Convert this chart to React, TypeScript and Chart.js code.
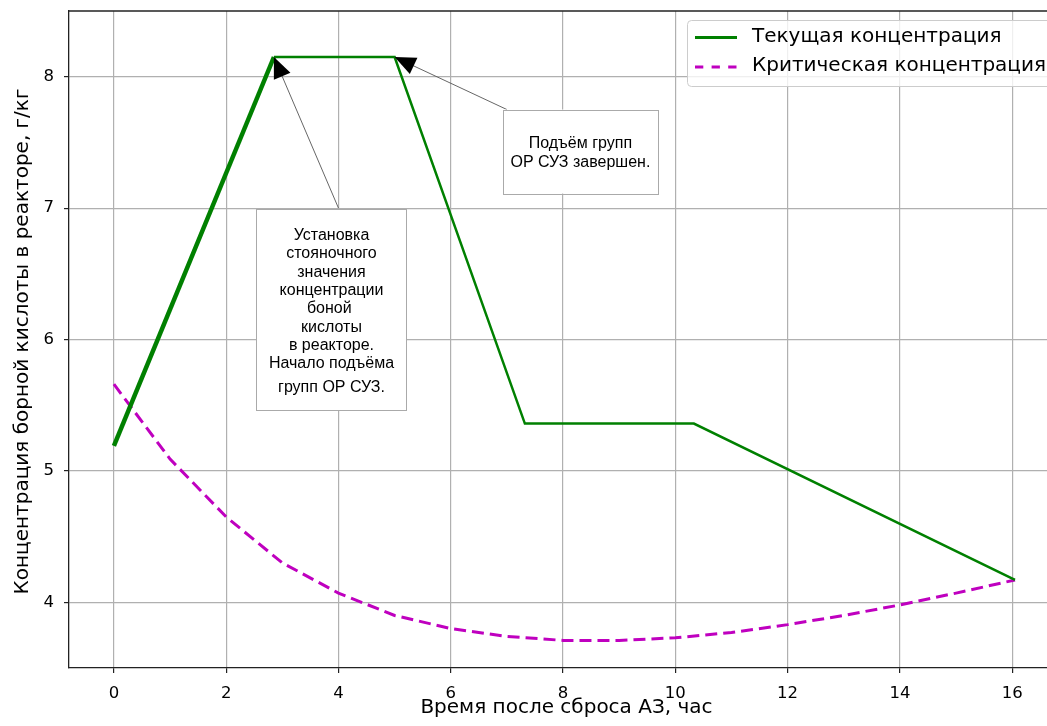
import React, { useEffect, useRef } from "react";
import { Chart, registerables } from "chart.js";

Chart.register(...registerables);

// ---- data ----
const currentX = [0, 2.85, 5.0, 7.32, 10.33, 16.05];
const currentY = [5.19, 8.15, 8.15, 5.36, 5.36, 4.17];

const criticalX = [0, 1, 2, 3, 4, 5, 6, 7, 8, 9, 10, 11, 12, 13, 14, 15, 16.05];
const criticalY = [5.66, 5.09, 4.65, 4.3, 4.07, 3.9, 3.8, 3.74, 3.71, 3.71, 3.73, 3.77, 3.83, 3.9, 3.98, 4.07, 4.17];

const xTicks = [0, 2, 4, 6, 8, 10, 12, 14, 16];
const yTicks = [4, 5, 6, 7, 8];

const seriesNames = ["Текущая концентрация", "Критическая концентрация"];
const xTitle = "Время после сброса АЗ, час";
const yTitle = "Концентрация борной кислоты в реакторе, г/кг";

const note1Lines = [
  "Установка",
  "стояночного",
  "значения",
  "концентрации",
  "боной ",
  "кислоты",
  "в реакторе.",
  "Начало подъёма",
  "групп ОР СУЗ.",
];
const note1Tip = [2.85, 8.15];
const note1Anchor = [4, 7];

const note2Lines = ["Подъём групп", "ОР СУЗ завершен."];
const note2Tip = [5.0, 8.15];
const note2Anchor = [7, 7.75];

// ---- styles ----
const GREEN = "#008000";
const MAGENTA = "#bf00bf";
const TICK_FONT = "DejaVu Sans";
const NOTE_FONT = "16px 'Liberation Sans', Arial, sans-serif";

function drawArrow(ctx: CanvasRenderingContext2D, sx: number, sy: number, tx: number, ty: number) {
  ctx.save();
  ctx.strokeStyle = "#555";
  ctx.lineWidth = 0.9;
  ctx.beginPath();
  ctx.moveTo(sx, sy);
  ctx.lineTo(tx, ty);
  ctx.stroke();
  const dx = sx - tx;
  const dy = sy - ty;
  const len = Math.hypot(dx, dy);
  const ux = dx / len;
  const uy = dy / len;
  const bx = tx + ux * 21;
  const by = ty + uy * 21;
  const px = -uy;
  const py = ux;
  ctx.fillStyle = "#000";
  ctx.beginPath();
  ctx.moveTo(tx, ty);
  ctx.lineTo(bx + px * 9, by + py * 9);
  ctx.lineTo(bx - px * 9, by - py * 9);
  ctx.closePath();
  ctx.fill();
  ctx.restore();
}

function drawBox(
  ctx: CanvasRenderingContext2D,
  left: number,
  top: number,
  w: number,
  h: number,
  lines: string[],
  firstOffset: number,
  spacing: number,
  lastExtra: number
) {
  ctx.save();
  ctx.fillStyle = "#fff";
  ctx.fillRect(left, top, w, h);
  ctx.strokeStyle = "#aaa";
  ctx.lineWidth = 1;
  ctx.strokeRect(Math.round(left) + 0.5, Math.round(top) + 0.5, w, h);
  ctx.fillStyle = "#000";
  ctx.font = NOTE_FONT;
  ctx.textAlign = "center";
  ctx.textBaseline = "middle";
  const cx = left + w / 2;
  lines.forEach((ln, i) => {
    const extra = i === lines.length - 1 ? lastExtra : 0;
    ctx.fillText(ln, cx, top + firstOffset + i * spacing + extra);
  });
  ctx.restore();
}

const overlayPlugin = {
  id: "overlay",
  afterDatasetsDraw(chart: any) {
    const ctx: CanvasRenderingContext2D = chart.ctx;
    const xs = chart.scales.x;
    const ys = chart.scales.y;
    const area = chart.chartArea;

    // top spine
    ctx.save();
    ctx.strokeStyle = "#222";
    ctx.lineWidth = 1.3;
    ctx.beginPath();
    ctx.moveTo(area.left, area.top);
    ctx.lineTo(area.right, area.top);
    ctx.stroke();
    ctx.restore();

    // annotation 1
    const t1x = xs.getPixelForValue(note1Tip[0]);
    const t1y = ys.getPixelForValue(note1Tip[1]);
    const a1x = xs.getPixelForValue(note1Anchor[0]);
    const a1y = ys.getPixelForValue(note1Anchor[1]);
    drawArrow(ctx, a1x, a1y, t1x, t1y);
    drawBox(ctx, a1x - 82, a1y + 1, 150, 201, note1Lines, 26.5, 18.3, 24 - 18.3);

    // annotation 2
    const t2x = xs.getPixelForValue(note2Tip[0]);
    const t2y = ys.getPixelForValue(note2Tip[1]);
    const a2x = xs.getPixelForValue(note2Anchor[0]);
    const a2y = ys.getPixelForValue(note2Anchor[1]);
    drawArrow(ctx, a2x, a2y, t2x, t2y);
    drawBox(ctx, a2x - 4, a2y, 155, 84, note2Lines, 34, 18.7, 0);

    // legend
    const lx = area.right - 360;
    const ly = area.top + 9;
    ctx.save();
    ctx.fillStyle = "rgba(255,255,255,0.8)";
    ctx.strokeStyle = "#cccccc";
    ctx.lineWidth = 1;
    ctx.beginPath();
    (ctx as any).roundRect(lx + 0.5, ly + 0.5, 420, 66, 4);
    ctx.fill();
    ctx.stroke();
    const rows = [ly + 16.5, ly + 46];
    const colors = [GREEN, MAGENTA];
    const dashes = [[], [8.3, 8.3]];
    rows.forEach((ry, i) => {
      ctx.strokeStyle = colors[i];
      ctx.lineWidth = 3;
      ctx.setLineDash(dashes[i]);
      ctx.beginPath();
      ctx.moveTo(lx + 8, ry + 1);
      ctx.lineTo(lx + 50, ry + 1);
      ctx.stroke();
      ctx.setLineDash([]);
      ctx.fillStyle = "#000";
      ctx.font = `20px '${TICK_FONT}'`;
      ctx.textAlign = "left";
      ctx.textBaseline = "middle";
      ctx.fillText(seriesNames[i], lx + 65, ry);
    });
    ctx.restore();
  },
  afterDraw(chart: any) {
    const ctx: CanvasRenderingContext2D = chart.ctx;
    const xs = chart.scales.x;
    const area = chart.chartArea;
    ctx.save();
    ctx.fillStyle = "#000";
    ctx.font = `20px '${TICK_FONT}'`;
    ctx.textAlign = "center";
    ctx.textBaseline = "alphabetic";
    const midX = xs.getPixelForValue((currentX[0] + currentX[currentX.length - 1]) / 2);
    ctx.fillText(xTitle, midX + 2, 713);
    ctx.translate(23, (area.top + area.bottom) / 2 + 2);
    ctx.rotate(-Math.PI / 2);
    ctx.textBaseline = "middle";
    ctx.fillText(yTitle, 0, 0);
    ctx.restore();
  },
};

export default function App() {
  const ref = useRef<HTMLCanvasElement | null>(null);

  useEffect(() => {
    if (!ref.current) return;
    const chart = new Chart(ref.current, {
      type: "line",
      data: {
        datasets: [
          {
            label: seriesNames[0],
            data: currentX.map((x, i) => ({ x, y: currentY[i] })),
            borderColor: GREEN,
            borderWidth: 2.5,
            pointRadius: 0,
            tension: 0,
            fill: false,
            segment: {
              borderWidth: (c: any) => (c.p0DataIndex === 0 ? 4.5 : undefined),
            },
          } as any,
          {
            label: seriesNames[1],
            data: criticalX.map((x, i) => ({ x, y: criticalY[i] })),
            borderColor: MAGENTA,
            borderWidth: 3,
            borderDash: [12, 6],
            pointRadius: 0,
            tension: 0,
            fill: false,
          },
        ],
      },
      options: {
        animation: false,
        responsive: false,
        devicePixelRatio: 1,
        layout: { padding: { top: 11, left: 0, right: 0, bottom: 0 } },
        plugins: {
          legend: { display: false },
          tooltip: { enabled: false },
          title: { display: false },
        },
        scales: {
          x: {
            type: "linear",
            min: -0.8,
            max: 16.62,
            afterBuildTicks: (s: any) => {
              s.ticks = xTicks.map((v) => ({ value: v }));
            },
            afterFit: (s: any) => {
              s.height = 58;
              s.paddingLeft = 0;
              s.paddingRight = 0;
            },
            grid: {
              color: "#b0b0b0",
              lineWidth: 1.2,
              tickColor: "#222",
              tickLength: 5,
              drawTicks: true,
            },
            border: { color: "#222", width: 1.3 },
            ticks: {
              font: { family: TICK_FONT, size: 16.5 },
              color: "#000",
              padding: 11,
              maxRotation: 0,
              autoSkip: false,
            },
          },
          y: {
            type: "linear",
            min: 3.5,
            max: 8.5,
            afterBuildTicks: (s: any) => {
              s.ticks = yTicks.map((v) => ({ value: v }));
            },
            afterFit: (s: any) => {
              s.width = 69;
              s.paddingTop = 0;
              s.paddingBottom = 0;
            },
            grid: {
              color: "#b0b0b0",
              lineWidth: 1.2,
              tickColor: "#222",
              tickLength: 5,
              drawTicks: true,
            },
            border: { color: "#222", width: 1.3 },
            ticks: {
              font: { family: TICK_FONT, size: 16.5 },
              color: "#000",
              padding: 10,
              autoSkip: false,
            },
          },
        },
      },
      plugins: [overlayPlugin],
    });
    return () => chart.destroy();
  }, []);

  return (
    <div
      style={{
        position: "fixed",
        left: 0,
        top: 0,
        width: 1047,
        height: 726,
        background: "#fff",
        overflow: "hidden",
      }}
    >
      <canvas ref={ref} width={1047} height={726} style={{ display: "block" }} />
    </div>
  );
}
